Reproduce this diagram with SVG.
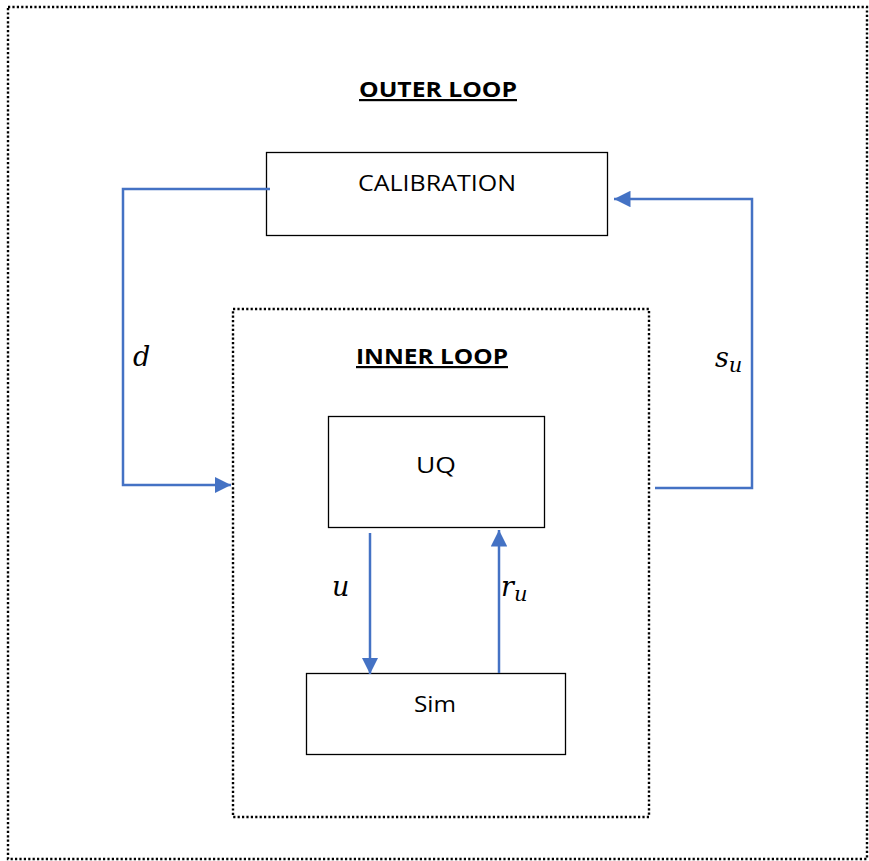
<svg xmlns="http://www.w3.org/2000/svg" width="869" height="861" viewBox="0 0 869 861">
  <style>
    .frame { fill: none; stroke: #000; stroke-width: 2.4; stroke-dasharray: 2.2 2.2; }
    .box { fill: #fff; stroke: #000; stroke-width: 1.3; }
    .label { font-family: "Open Sans", "Liberation Sans", sans-serif; font-size: 22px; fill: #000; text-anchor: middle; }
    .title { font-family: "Open Sans", "Liberation Sans", sans-serif; font-size: 22px; font-weight: bold; fill: #000; text-anchor: middle; text-decoration: underline; }
    .math { font-family: "DejaVu Serif", "Liberation Serif", serif; font-style: italic; font-size: 27px; fill: #000; }
    .sub { font-size: 21px; }
    .wire { fill: none; stroke: #4472C4; stroke-width: 2.5; }
  </style>
  <defs>
    <marker id="arrow" viewBox="0 0 10 10" refX="10" refY="5" markerWidth="6.6" markerHeight="6.6" markerUnits="strokeWidth" orient="auto">
      <path d="M0,0 L10,5 L0,10 z" fill="#4472C4"/>
    </marker>
  </defs>

  <rect width="869" height="861" fill="#fff"/>

  <!-- loop frames -->
  <g id="outer-loop">
    <rect class="frame" x="8" y="7" width="859" height="852"/>
    <text class="title" x="438" y="97" textLength="158" lengthAdjust="spacingAndGlyphs">OUTER LOOP</text>
  </g>
  <g id="inner-loop">
    <rect class="frame" x="233" y="309" width="416" height="508"/>
    <text class="title" x="432" y="364" textLength="152" lengthAdjust="spacingAndGlyphs">INNER LOOP</text>
  </g>

  <!-- process blocks -->
  <g id="calibration">
    <rect class="box" x="266.5" y="152.5" width="341" height="83"/>
    <text class="label" x="437" y="191" textLength="158" lengthAdjust="spacingAndGlyphs">CALIBRATION</text>
  </g>
  <g id="uq">
    <rect class="box" x="328.5" y="416.5" width="216" height="111"/>
    <text class="label" x="436" y="473" textLength="40" lengthAdjust="spacingAndGlyphs">UQ</text>
  </g>
  <g id="sim">
    <rect class="box" x="306.5" y="673.5" width="259" height="81"/>
    <text class="label" x="435" y="712" textLength="42" lengthAdjust="spacingAndGlyphs">Sim</text>
  </g>

  <!-- signal flow -->
  <g id="connectors">
    <polyline class="wire" points="270,189 123,189 123,485 231,485" marker-end="url(#arrow)"/>
    <polyline class="wire" points="655,488 752,488 752,199 614,199" marker-end="url(#arrow)"/>
    <line class="wire" x1="370" y1="533" x2="370" y2="674" marker-end="url(#arrow)"/>
    <line class="wire" x1="499" y1="673" x2="499" y2="530" marker-end="url(#arrow)"/>
  </g>

  <!-- signal labels -->
  <g id="signal-labels">
    <text class="math" x="133" y="366">d</text>
    <text class="math" x="715" y="367">s<tspan class="sub" dy="5">u</tspan></text>
    <text class="math" x="332" y="596">u</text>
    <text class="math" x="501" y="596">r<tspan class="sub" dy="5">u</tspan></text>
  </g>
</svg>
